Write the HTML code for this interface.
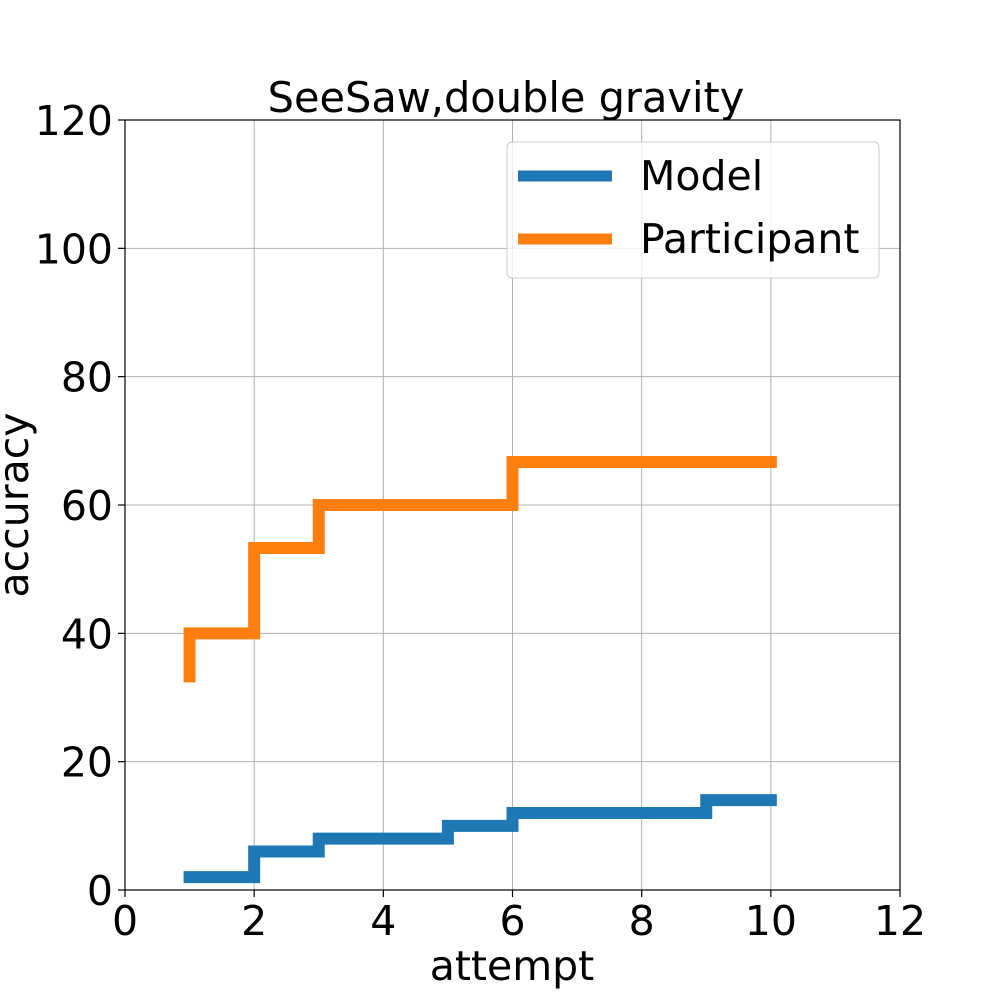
<!DOCTYPE html>
<html><head><meta charset="utf-8"><style>
html,body{margin:0;padding:0;background:#fff;}
svg{display:block;font-family:"DejaVu Sans","Liberation Sans",sans-serif;}
</style></head><body>
<svg id="chart" width="1000" height="1000" viewBox="0 0 1000 1000" xmlns="http://www.w3.org/2000/svg">
<rect width="1000" height="1000" fill="#fff"/>
<g id="grid"></g>
<g id="series"></g>
<rect x="125" y="120" width="775" height="770" fill="none" stroke="#000" stroke-width="1.2"/>
<g id="ticks"></g>
<text x="506" y="112" font-size="41.5" text-anchor="middle">SeeSaw,double gravity</text>
<text x="512" y="980" font-size="41" text-anchor="middle">attempt</text>
<text transform="translate(28,505) rotate(-90)" font-size="41" text-anchor="middle">accuracy</text>
<g>
<rect x="507" y="142" width="372" height="136" rx="5" fill="#fff" fill-opacity="0.8" stroke="#ccc" stroke-width="1"/>
<line x1="518" y1="176" x2="612" y2="176" stroke="#1f77b4" stroke-width="11"/>
<text x="640" y="190" font-size="41">Model</text>
<line x1="518" y1="239" x2="612" y2="239" stroke="#ff7f0e" stroke-width="11"/>
<text x="640" y="253" font-size="41">Participant</text>
</g>
</svg>
<script>
const attempts = [1,2,3,4,5,6,7,8,9,10];
const modelValues = [2,2,6,8,8,10,12,12,12,14];
const participantValues = [33.3,40,53.3,60,60,60,66.7,66.7,66.7,66.7];
const xTicks = [0,2,4,6,8,10,12];
const yTicks = [0,20,40,60,80,100,120];

const NS = "http://www.w3.org/2000/svg";
const L=125,R=900,T=120,B=890;
function sx(v){return L+(v-0)/(12-0)*(R-L);}
function sy(v){return B-(v-0)/(120-0)*(B-T);}
function mk(tag,attrs,parent){const e=document.createElementNS(NS,tag);for(const k in attrs)e.setAttribute(k,attrs[k]);parent.appendChild(e);return e;}

const grid=document.getElementById('grid'), ticks=document.getElementById('ticks'), series=document.getElementById('series');
xTicks.forEach(t=>{
  const g=mk('line',{x1:sx(t),x2:sx(t),y1:T,y2:B,stroke:'#b0b0b0','stroke-width':1},grid);
  
  
  const tk=mk('line',{x1:sx(t),x2:sx(t),y1:B,y2:B+7,stroke:'#000','stroke-width':1.2},ticks);
  
  
  const lb=mk('text',{x:sx(t),y:B+45,'font-size':41,'text-anchor':'middle'},ticks);
  lb.textContent=t;
  
  
});
yTicks.forEach(t=>{
  const g=mk('line',{x1:L,x2:R,y1:sy(t),y2:sy(t),stroke:'#b0b0b0','stroke-width':1},grid);
  
  
  const tk=mk('line',{x1:L-7,x2:L,y1:sy(t),y2:sy(t),stroke:'#000','stroke-width':1.2},ticks);
  
  
  const lb=mk('text',{x:L-12,y:sy(t)+15,'font-size':41,'text-anchor':'end'},ticks);
  lb.textContent=t;
  
  
});
function stepPath(xs,ys){
  let d='M'+sx(xs[0])+','+sy(ys[0]);
  for(let i=1;i<xs.length;i++){d+=' L'+sx(xs[i-1])+','+sy(ys[i])+' L'+sx(xs[i])+','+sy(ys[i]);}
  return d;
}
const pm=mk('path',{d:stepPath(attempts,modelValues),fill:'none',stroke:'#1f77b4','stroke-width':12,'stroke-linecap':'square'},series);


const pp=mk('path',{d:stepPath(attempts,participantValues),fill:'none',stroke:'#ff7f0e','stroke-width':12,'stroke-linecap':'square'},series);


</script>
</body></html>
